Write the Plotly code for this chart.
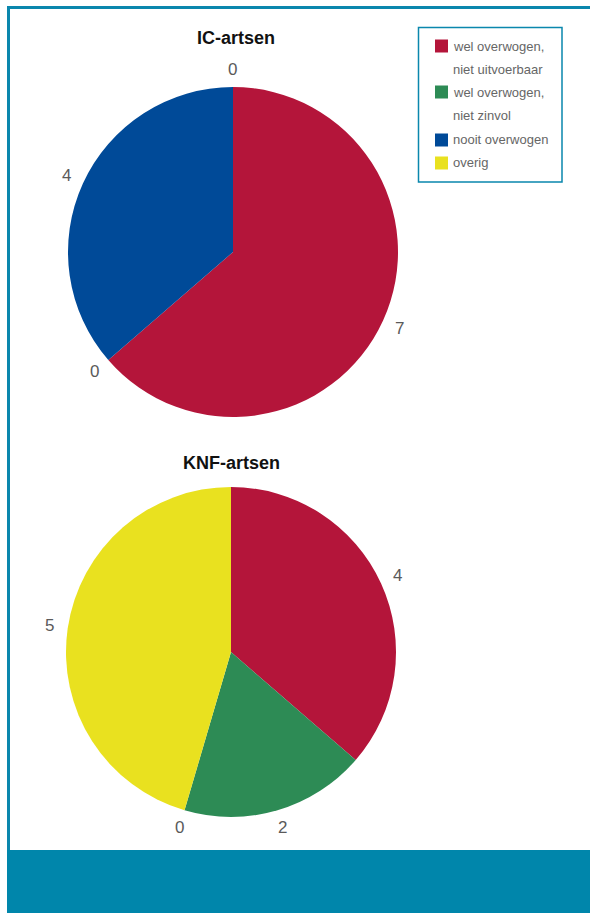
import math
import plotly.graph_objects as go

# Categories and counts per group
categories = [
    "wel overwogen,<br>niet uitvoerbaar",
    "wel overwogen,<br>niet zinvol",
    "nooit overwogen",
    "overig",
]
colors = ["#b4153a", "#2d8b55", "#004a98", "#e9e11f"]
ic_values = [7, 0, 4, 0]
knf_values = [4, 2, 0, 5]
titles = ["IC-artsen", "KNF-artsen"]

W, H = 590, 913
FRAME = "#0a87ad"
BAND = "#0086ab"
FONT = "Liberation Sans, Arial, sans-serif"


def px_x(x):
    return x / W


def px_y(y):
    return 1 - y / H


fig = go.Figure()

# pixel boxes (x0, x1, y0, y1) holding each pie
pie_boxes = [(68, 398, 87, 417), (66, 396, 487, 817)]
LABEL_OFFSET = 18  # distance of value labels beyond the rim, px

for vals, (x0, x1, y0, y1) in zip([ic_values, knf_values], pie_boxes):
    fig.add_trace(go.Pie(
        labels=categories,
        values=vals,
        marker=dict(colors=colors, line=dict(width=0)),
        sort=False,
        direction="clockwise",
        rotation=0,
        textinfo="none",
        domain=dict(x=[px_x(x0), px_x(x1)], y=[px_y(y1), px_y(y0)]),
        showlegend=False,
        hoverinfo="label+value",
    ))

    # value labels outside each slice (zero slices included), at mid-angle
    cx, cy = (x0 + x1) / 2, (y0 + y1) / 2
    r = (x1 - x0) / 2 + LABEL_OFFSET
    total = sum(vals)
    cum = 0
    for v in vals:
        mid = (cum + v / 2) / total * 2 * math.pi
        cum += v
        lx = cx + r * math.sin(mid)
        ly = cy - r * math.cos(mid)
        fig.add_annotation(
            x=px_x(lx), y=px_y(ly), xref="paper", yref="paper",
            text=str(v), showarrow=False, xanchor="center", yanchor="middle",
            font=dict(family=FONT, size=17, color="#5a5a5a"),
        )

# Pie titles
for title, (cx, cy) in zip(titles, [(236, 38), (231, 463)]):
    fig.add_annotation(
        x=px_x(cx), y=px_y(cy), xref="paper", yref="paper",
        text=f"<b>{title}</b>", showarrow=False,
        font=dict(family=FONT, size=18, color="#111111"),
        xanchor="center", yanchor="middle",
    )

shapes = [
    # outer frame: top and left edges
    dict(type="line", xref="paper", yref="paper", x0=px_x(7), x1=1, y0=px_y(7.5), y1=px_y(7.5),
         line=dict(color=FRAME, width=3)),
    dict(type="line", xref="paper", yref="paper", x0=px_x(8.5), x1=px_x(8.5), y0=px_y(6), y1=px_y(850),
         line=dict(color=FRAME, width=3)),
    # footer band
    dict(type="rect", xref="paper", yref="paper", x0=px_x(7), x1=1, y0=0, y1=px_y(850),
         fillcolor=BAND, line=dict(width=0)),
    # legend box
    dict(type="rect", xref="paper", yref="paper", x0=px_x(418.5), x1=px_x(562), y0=px_y(182), y1=px_y(27.5),
         fillcolor="rgba(0,0,0,0)", line=dict(color=FRAME, width=1.5)),
]

# Legend entries: swatch + text lines
legend_rows = [46, 92, 140, 163]
for name, color, ry in zip(categories, colors, legend_rows):
    shapes.append(dict(type="rect", xref="paper", yref="paper",
                       x0=px_x(435), x1=px_x(448), y0=px_y(ry + 6.5), y1=px_y(ry - 6.5),
                       fillcolor=color, line=dict(width=0)))
    for i, line in enumerate(name.split("<br>")):
        fig.add_annotation(
            x=px_x(451), y=px_y(ry + 23 * i), xref="paper", yref="paper",
            text=line, showarrow=False, xanchor="left", yanchor="middle",
            font=dict(family=FONT, size=13, color="#666666"),
        )

fig.update_layout(
    width=W, height=H,
    margin=dict(l=0, r=0, t=0, b=0),
    paper_bgcolor="white",
    plot_bgcolor="white",
    shapes=shapes,
    showlegend=False,
)

fig.write_html("out.html")
